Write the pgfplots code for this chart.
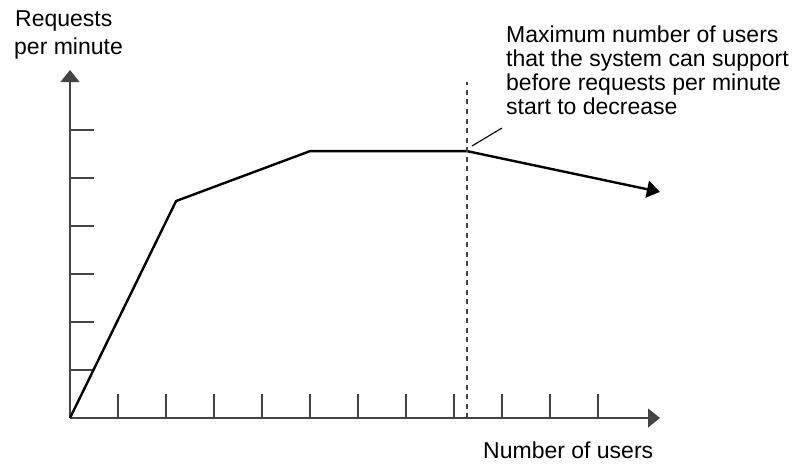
\documentclass[border=0pt]{standalone}
\usepackage{pgfplots}
\pgfplotsset{compat=1.18}
\usepackage{fontspec}
\setmainfont{Liberation Sans}
\usetikzlibrary{arrows.meta}
\definecolor{axisgray}{HTML}{444444}
\begin{document}
\begin{tikzpicture}
\useasboundingbox (-70pt,-46pt) rectangle (735pt,418pt);
\begin{axis}[
  at={(0pt,0pt)}, anchor=south west,
  scale only axis, width=590pt, height=348pt,
  xmin=0, xmax=12.2917, ymin=0, ymax=7.25,
  axis lines=left,
  axis line style={draw=axisgray, line width=1.3pt, -{Triangle[length=12pt,width=19pt]}},
  xtick={1,2,3,4,5,6,7,8,9,10,11},
  ytick={1,2,3,4,5,6},
  xticklabels={}, yticklabels={},
  tick align=inside,
  major tick length=24pt,
  tick style={draw=axisgray, line width=1.2pt},
  clip=false,
]
\addplot[black, line width=2.4pt, line join=miter, -{Triangle[length=13pt,width=17pt]}] coordinates {
  (0,0) (2.21,4.52) (5.0,5.56) (8.27,5.56) (12.29,4.71)
};
\addplot[axisgray, line width=1.2pt, dash pattern=on 5pt off 4.5pt] coordinates {
  (8.27,0) (8.27,7.0)
};
\addplot[black, line width=1.1pt] coordinates {
  (8.375,5.667) (9.0,6.042)
};
\end{axis}
\begin{scope}[every node/.style={inner sep=0pt, anchor=base west, font=\fontsize{23}{24}\selectfont}]
\node at (-55pt,391pt) {Requests};
\node at (-56pt,363pt) {per minute};
\node at (436pt,375pt) {Maximum number of users};
\node at (436pt,351pt) {that the system can support};
\node at (436pt,327pt) {before requests per minute};
\node at (436pt,303pt) {start to decrease};
\node at (413pt,-40pt) {Number of users};
\end{scope}
\end{tikzpicture}
\end{document}
